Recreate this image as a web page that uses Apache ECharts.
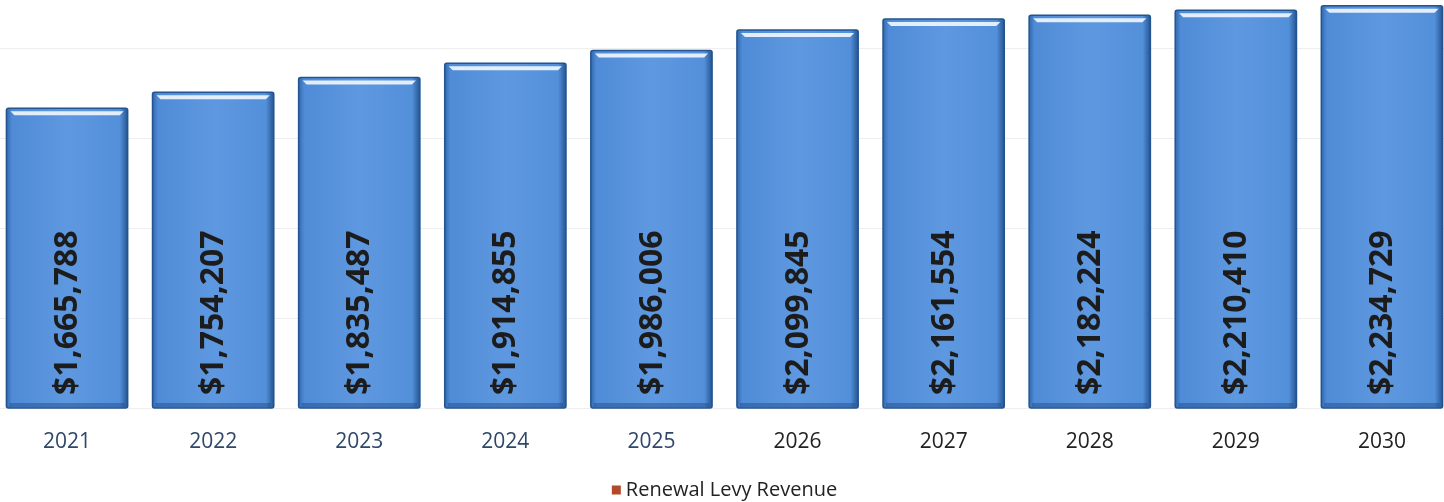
<!DOCTYPE html>
<html>
<head>
<meta charset="utf-8">
<title>Renewal Levy Revenue</title>
<script src="https://cdn.jsdelivr.net/npm/echarts@6/dist/echarts.min.js"></script>
<style>
  html, body { margin: 0; padding: 0; background: #ffffff; overflow: hidden; }
  /* plot area runs slightly past the page edges, so the canvas is shifted */
  #chart { width: 1461px; height: 544px; margin-left: -6px; margin-top: -42px; }
</style>
</head>
<body>
<div id="chart"></div>
<script>
// Renewal levy revenue by year
const years = ['2021', '2022', '2023', '2024', '2025', '2026', '2027', '2028', '2029', '2030'];
const revenue = [1665788, 1754207, 1835487, 1914855, 1986006, 2099845, 2161554, 2182224, 2210410, 2234729];
const seriesName = 'Renewal Levy Revenue';
const yTicks = [0, 500000, 1000000, 1500000, 2000000, 2500000];

const navyYears = ['2021', '2022', '2023', '2024', '2025'];

function money(v) {
  return '$' + v.toLocaleString('en-US');
}

const chart = echarts.init(document.getElementById('chart'), null, { renderer: 'canvas' });

// Bevelled bar: dark edges, lighter face, a white highlight just under the top
function renderBar(params, api) {
  const idx = api.value(0);
  const val = api.value(1);
  const top = api.coord([idx, val]);
  const base = api.coord([idx, 0]);
  const w = api.size([1, 0])[0] * 0.83;
  const x = top[0] - w / 2;
  const y = top[1];
  const h = base[1] - top[1];
  return {
    type: 'group',
    children: [
      {
        type: 'rect',
        shape: { x: x, y: y, width: w, height: h, r: 2 },
        style: {
          fill: new echarts.graphic.LinearGradient(0, 0, 1, 0, [
            { offset: 0, color: '#2e64a8' },
            { offset: 0.05, color: '#4f8bd6' },
            { offset: 0.5, color: '#5e98e0' },
            { offset: 0.93, color: '#5390da' },
            { offset: 1, color: '#22508c' }
          ]),
          stroke: '#23548f',
          lineWidth: 1.5
        }
      },
      {
        type: 'rect',
        shape: { x: x + 3, y: base[1] - 5, width: w - 6, height: 4 },
        style: { fill: 'rgba(30,70,130,0.45)' }
      },
      {
        type: 'polygon',
        shape: {
          points: [
            [x + 4, y + 3], [x + w - 4, y + 3],
            [x + w - 8, y + 7], [x + 8, y + 7]
          ]
        },
        style: { fill: 'rgba(235,243,255,0.95)' }
      },
      {
        type: 'text',
        x: top[0] + 1,
        y: base[1] - 13,
        rotation: Math.PI / 2,
        style: {
          text: money(val),
          fill: '#1c1c1c',
          font: 'bold 32px "Open Sans", Lato, sans-serif',
          align: 'left',
          verticalAlign: 'middle'
        }
      }
    ]
  };
}

chart.setOption({
  backgroundColor: '#ffffff',
  animation: false,
  grid: { left: 0, right: 0, top: 0, bottom: 94, containLabel: false },
  legend: {
    data: [{ name: seriesName, itemStyle: { color: '#b4482a' } }],
    bottom: -3,
    left: 'center',
    itemWidth: 9,
    itemHeight: 9,
    itemGap: 4,
    icon: 'rect',
    textStyle: { fontFamily: '"Open Sans", sans-serif', fontSize: 20, color: '#222222' }
  },
  xAxis: {
    type: 'category',
    data: years,
    axisLine: { show: false },
    axisTick: { show: false },
    axisLabel: {
      margin: 24,
      fontFamily: '"Open Sans", sans-serif',
      fontSize: 21,
      color: function (v) { return navyYears.indexOf(v) >= 0 ? '#2f4769' : '#222222'; }
    }
  },
  yAxis: {
    type: 'value',
    min: yTicks[0],
    max: yTicks[yTicks.length - 1],
    interval: yTicks[1] - yTicks[0],
    axisLabel: { show: false },
    axisLine: { show: false },
    axisTick: { show: false },
    splitLine: { lineStyle: { color: '#eeeeee', width: 1 } }
  },
  series: [{
    name: seriesName,
    type: 'custom',
    renderItem: renderBar,
    encode: { x: 0, y: 1 },
    itemStyle: { color: '#5e98e0' },
    data: years.map((y, i) => [i, revenue[i]])
  }]
});
</script>
</body>
</html>
